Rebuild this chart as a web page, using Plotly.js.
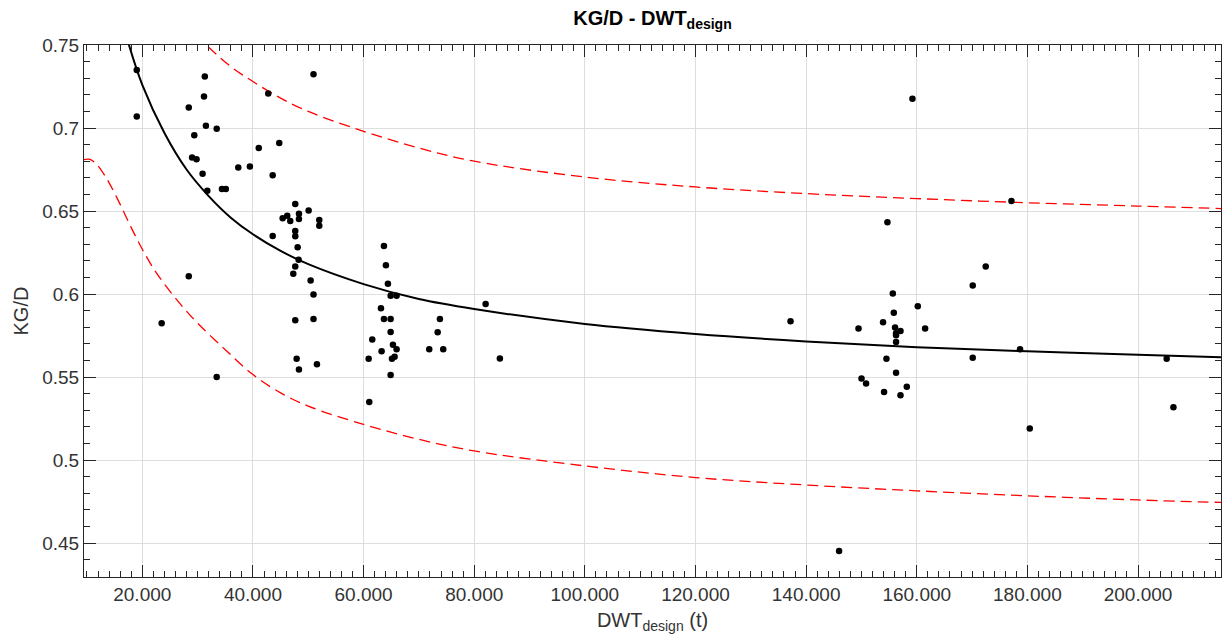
<!DOCTYPE html>
<html>
<head>
<meta charset="utf-8">
<script src="https://cdn.plot.ly/plotly-3.0.1.min.js"></script>
<style>html,body{margin:0;padding:0;background:#fff;}#chart{width:1223px;height:643px;}</style>
</head>
<body>
<div id="chart"></div>
<script>
// Scatter data (DWT_design in t, KG/D)
const dwtPoints = [
  19000, 19000, 31300, 31150, 28400, 31500, 33450, 29400, 29000, 29800,
  30900, 31750, 34400, 35100, 37350, 39450, 41050, 42770, 44760, 43570,
  50950, 43570, 45370, 46200, 46750, 47650, 48320, 48320, 50070, 51990,
  51990, 47650, 47650, 48080, 48260, 47650, 47290, 50430, 50950, 50950,
  47650, 47900, 48320, 51570, 28400, 23500, 33450,
  63680, 64040, 64400, 64890, 65970, 63140, 63680, 64890, 64890, 61570,
  63260, 65310, 65970, 65130, 65610, 60920, 64890, 61030,
  71870, 73390, 73800, 74400, 82060, 84640,
  137180, 154700, 149470, 153910, 155670, 155850, 156080, 156260, 156260, 157060,
  156260, 160190, 161510, 154520, 156260, 150010, 150840, 154090, 157060, 158200,
  170120, 172470, 170120, 178670, 177120, 205180, 206400, 180430, 159220, 145960
];
const kgdPoints = [
  0.735, 0.707, 0.731, 0.719, 0.7124, 0.7014, 0.6996, 0.6956, 0.6822, 0.6812,
  0.6724, 0.6622, 0.6632, 0.6632, 0.6762, 0.6768, 0.688, 0.7208, 0.691, 0.6716,
  0.7324, 0.635, 0.6456, 0.6472, 0.644, 0.6542, 0.6484, 0.6452, 0.6504, 0.6446,
  0.6412, 0.638, 0.6348, 0.6282, 0.6206, 0.6166, 0.6122, 0.6082, 0.5998, 0.585,
  0.5842, 0.561, 0.5546, 0.5578, 0.6108, 0.5824, 0.55,
  0.629, 0.6174, 0.6062, 0.599, 0.599, 0.5914, 0.585, 0.585, 0.5772, 0.5726,
  0.5656, 0.5694, 0.5668, 0.561, 0.5622, 0.561, 0.5512, 0.535,
  0.5668, 0.577, 0.585, 0.5668, 0.594, 0.5612,
  0.5836, 0.6432, 0.5792, 0.583, 0.6004, 0.5888, 0.5798, 0.5764, 0.5752, 0.5778,
  0.5712, 0.5926, 0.5792, 0.561, 0.5526, 0.5492, 0.5462, 0.541, 0.539, 0.5442,
  0.6052, 0.6166, 0.5616, 0.5668, 0.656, 0.561, 0.5318, 0.519, 0.7176, 0.4452
];

// Fitted curve (black)
const fitX = [17500, 20000, 24000, 28000, 32000, 36000, 40000, 45000, 50000, 60000, 70000, 80000, 100000, 120000, 140000, 160000, 180000, 200000, 215000];
const fitY = [0.751, 0.726, 0.697, 0.675, 0.659, 0.646, 0.636, 0.626, 0.618, 0.606, 0.597, 0.591, 0.582, 0.576, 0.5715, 0.568, 0.5655, 0.5635, 0.562];

// Upper bound (red dashed)
const upperX = [31900, 36000, 40000, 45000, 50000, 60000, 70000, 80000, 100000, 120000, 140000, 160000, 180000, 200000, 215000];
const upperY = [0.749, 0.737, 0.728, 0.718, 0.71, 0.698, 0.688, 0.68, 0.6705, 0.6645, 0.6605, 0.6575, 0.655, 0.653, 0.6515];

// Lower bound (red dashed)
const lowerX = [9460, 10400, 11500, 12500, 14000, 16000, 18000, 20000, 22000, 24000, 27000, 30000, 35000, 40000, 45000, 50000, 60000, 70000, 80000, 100000, 120000, 140000, 160000, 180000, 200000, 215000];
const lowerY = [0.681, 0.6812, 0.679, 0.675, 0.667, 0.654, 0.640, 0.627, 0.6155, 0.606, 0.5935, 0.5825, 0.5665, 0.5515, 0.5405, 0.5325, 0.5215, 0.5125, 0.5055, 0.4965, 0.4895, 0.485, 0.4815, 0.4785, 0.476, 0.4745];

// Tick labels
const xTickVals = [20000, 40000, 60000, 80000, 100000, 120000, 140000, 160000, 180000, 200000];
const xTickText = ['20.000', '40.000', '60.000', '80.000', '100.000', '120.000', '140.000', '160.000', '180.000', '200.000'];
const yTickVals = [0.45, 0.5, 0.55, 0.6, 0.65, 0.7, 0.75];
const yTickText = ['0.45', '0.5', '0.55', '0.6', '0.65', '0.7', '0.75'];

const FONT = 'Liberation Sans, Arial, Helvetica, sans-serif';
const AXC = '#262626';

const traces = [
  {x: lowerX, y: lowerY, mode: 'lines', line: {color: '#ff0000', width: 1.3, dash: '11px,6px', shape: 'spline', smoothing: 1}, hoverinfo: 'skip'},
  {x: upperX, y: upperY, mode: 'lines', line: {color: '#ff0000', width: 1.3, dash: '11px,6px', shape: 'spline', smoothing: 1}, hoverinfo: 'skip'},
  {x: fitX, y: fitY, mode: 'lines', line: {color: '#000000', width: 2, shape: 'spline', smoothing: 1}, hoverinfo: 'skip'},
  {x: dwtPoints, y: kgdPoints, mode: 'markers', marker: {color: '#000000', size: 6.5}}
];

const axisCommon = {
  showline: true, linecolor: AXC, linewidth: 1, mirror: 'ticks',
  ticks: 'inside', ticklen: 12, tickwidth: 1, tickcolor: AXC,
  showgrid: true, gridcolor: '#dedede', gridwidth: 1, zeroline: false,
  tickfont: {family: FONT, size: 19, color: '#333333'}
};

const layout = {
  width: 1223, height: 643,
  margin: {l: 84, r: 2, t: 45, b: 66},
  paper_bgcolor: '#ffffff', plot_bgcolor: '#ffffff',
  showlegend: false,
  font: {family: FONT, color: AXC},
  title: {text: '<b>KG/D - DWT<sub>design</sub></b>', font: {family: FONT, size: 20, color: '#000000'}, x: 0.5, xref: 'paper', xanchor: 'center', y: 0.972, yref: 'container', yanchor: 'middle'},
  xaxis: Object.assign({}, axisCommon, {
    range: [9460, 215000], tickmode: 'array', tickvals: xTickVals, ticktext: xTickText,
    minor: {dtick: 2000, tick0: 0, ticks: 'inside', ticklen: 6, tickcolor: AXC, tickwidth: 1, showgrid: false},
    title: {text: 'DWT<sub>design</sub> (t)', font: {family: FONT, size: 20, color: '#333333'}, standoff: 9}
  }),
  yaxis: Object.assign({}, axisCommon, {
    range: [0.4296, 0.75], tickmode: 'array', tickvals: yTickVals, ticktext: yTickText,
    minor: {dtick: 0.01, tick0: 0, ticks: 'inside', ticklen: 6, tickcolor: AXC, tickwidth: 1, showgrid: false},
    title: {text: 'KG/D', font: {family: FONT, size: 20, color: '#333333'}, standoff: 8}
  })
};

Plotly.newPlot('chart', traces, layout, {staticPlot: true, displayModeBar: false});
</script>
</body>
</html>
